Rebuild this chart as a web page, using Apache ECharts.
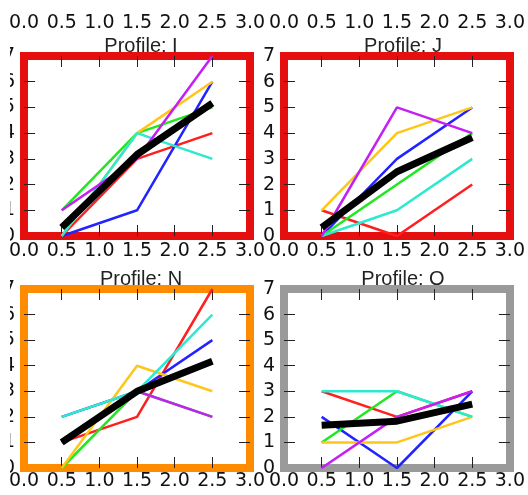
<!DOCTYPE html>
<html>
<head>
    <meta charset="utf-8">
    <title>Profiles</title>
    <script src="https://cdn.jsdelivr.net/npm/echarts@6/dist/echarts.min.js"></script>
    <style>
        html, body { margin: 0; padding: 0; background: #fff; }
        #chart { width: 528px; height: 495px; }
    </style>
</head>
<body>
<div id="chart"></div>
<script>
    // x positions shared by all lines
    var xs = [0.5, 1.5, 2.5];
    var xTicks = ['0.0', '0.5', '1.0', '1.5', '2.0', '2.5', '3.0'];
    var yTicks = ['0', '1', '2', '3', '4', '5', '6', '7'];

    var profiles = ['I', 'J', 'N', 'O'];

    // one array per line colour, per profile
    var redVals     = { I: [0, 3, 4], J: [1, 0, 2], N: [1, 2, 7], O: [3, 2, 3] };
    var blueVals    = { I: [0, 1, 6], J: [0, 3, 5], N: [2, 3, 5], O: [2, 0, 3] };
    var greenVals   = { I: [1, 4, 5], J: [0, 2, 4], N: [0, 3, 2], O: [1, 3, 2] };
    var orangeVals  = { I: [0, 4, 6], J: [1, 4, 5], N: [0, 4, 3], O: [1, 1, 2] };
    var cyanVals    = { I: [0, 4, 3], J: [0, 1, 3], N: [2, 3, 6], O: [3, 3, 2] };
    var magentaVals = { I: [1, 3, 7], J: [0, 5, 4], N: [1, 3, 2], O: [0, 2, 3] };
    var meanVals    = { I: [0.33, 3.17, 5.17], J: [0.33, 2.5, 3.83], N: [1.0, 3.0, 4.17], O: [1.67, 1.83, 2.5] };

    var lineSets = [
        { vals: redVals, color: '#ff1f1f' },
        { vals: blueVals, color: '#2323ff' },
        { vals: greenVals, color: '#1fe81f' },
        { vals: orangeVals, color: '#ffc61a' },
        { vals: cyanVals, color: '#2ee8cf' },
        { vals: magentaVals, color: '#c41ff5' }
    ];

    var frameColors = { I: '#e60f0f', J: '#e60f0f', N: '#ff8c00', O: '#9a9a9a' };

    // inner tick positions (corners left bare)
    var xTickVals = [0.5, 1, 1.5, 2, 2.5];
    var yTickVals = [1, 2, 3, 4, 5, 6];

    // panel layout
    var boxes = [
        { left: 22, top: 56, width: 228, height: 180 },
        { left: 284, top: 56, width: 228, height: 180 },
        { left: 22, top: 289, width: 228, height: 179 },
        { left: 284, top: 289, width: 228, height: 179 }
    ];

    var labelFont = { fontFamily: 'DejaVu Sans', fontSize: 19, color: '#111' };

    var chart = echarts.init(document.getElementById('chart'), null, { renderer: 'canvas' });

    var grids = [], xAxes = [], yAxes = [], series = [], titles = [];

    profiles.forEach(function (p, g) {
        var b = boxes[g];
        var frame = frameColors[p];
        var topRow = g < 2;
        grids.push({ left: b.left, top: b.top, width: b.width, height: b.height, containLabel: false });

        var lineStyle = { color: frame, width: 8, cap: 'square' };
        var xTick = { show: true, inside: true, length: 11, customValues: xTickVals, lineStyle: { color: '#222', width: 1 } };
        var yTick = { show: true, inside: true, length: 11, customValues: yTickVals, lineStyle: { color: '#222', width: 1 } };

        xAxes.push({
            type: 'value', gridIndex: g, position: 'bottom', min: 0, max: 3, interval: 0.5, z: 3,
            axisLine: { show: true, onZero: false, lineStyle: lineStyle },
            axisTick: xTick,
            splitLine: { show: false },
            axisLabel: Object.assign({ margin: topRow ? 6 : 4, formatter: function (v) { return xTicks[Math.round(v * 2)]; } }, labelFont)
        });
        xAxes.push({
            type: 'value', gridIndex: g, position: 'top', min: 0, max: 3, interval: 0.5, z: 3,
            axisLine: { show: true, onZero: false, lineStyle: lineStyle },
            axisTick: xTick,
            splitLine: { show: false },
            axisLabel: Object.assign({ show: topRow, margin: 23, formatter: function (v) { return xTicks[Math.round(v * 2)]; } }, labelFont)
        });
        yAxes.push({
            type: 'value', gridIndex: g, position: 'left', min: 0, max: 7, interval: 1, z: 3,
            axisLine: { show: true, onZero: false, lineStyle: lineStyle },
            axisTick: yTick,
            splitLine: { show: false },
            axisLabel: Object.assign({ margin: 9, formatter: function (v) { return yTicks[Math.round(v)]; } }, labelFont)
        });
        yAxes.push({
            type: 'value', gridIndex: g, position: 'right', min: 0, max: 7, interval: 1, z: 3,
            axisLine: { show: true, onZero: false, lineStyle: lineStyle },
            axisTick: yTick,
            splitLine: { show: false },
            axisLabel: { show: false }
        });

        lineSets.forEach(function (s) {
            series.push({
                type: 'line', xAxisIndex: g * 2, yAxisIndex: g * 2,
                data: xs.map(function (x, i) { return [x, s.vals[p][i]]; }),
                showSymbol: false, symbol: 'none', silent: true, animation: false,
                lineStyle: { color: s.color, width: 2.5 }
            });
        });
        series.push({
            type: 'line', xAxisIndex: g * 2, yAxisIndex: g * 2,
            data: xs.map(function (x, i) { return [x, meanVals[p][i]]; }),
            showSymbol: false, symbol: 'none', silent: true, animation: false,
            lineStyle: { color: '#000', width: 7 }
        });

        titles.push({
            text: 'Profile: ' + p,
            left: b.left + b.width / 2,
            top: b.top - 25,
            textAlign: 'center',
            textStyle: { fontFamily: 'Liberation Sans', fontSize: 20, fontWeight: 'normal', color: '#222' }
        });
    });

    var option = {
        animation: false,
        backgroundColor: '#fff',
        title: titles,
        grid: grids,
        xAxis: xAxes,
        yAxis: yAxes,
        series: series,
        graphic: [{
            type: 'rect', left: 0, top: 0, z: 100,
            shape: { width: 10, height: 495 },
            style: { fill: '#fff' }
        }]
    };

    chart.setOption(option);

    window.onresize = function () {
        chart.resize();
    };
</script>
</body>
</html>
